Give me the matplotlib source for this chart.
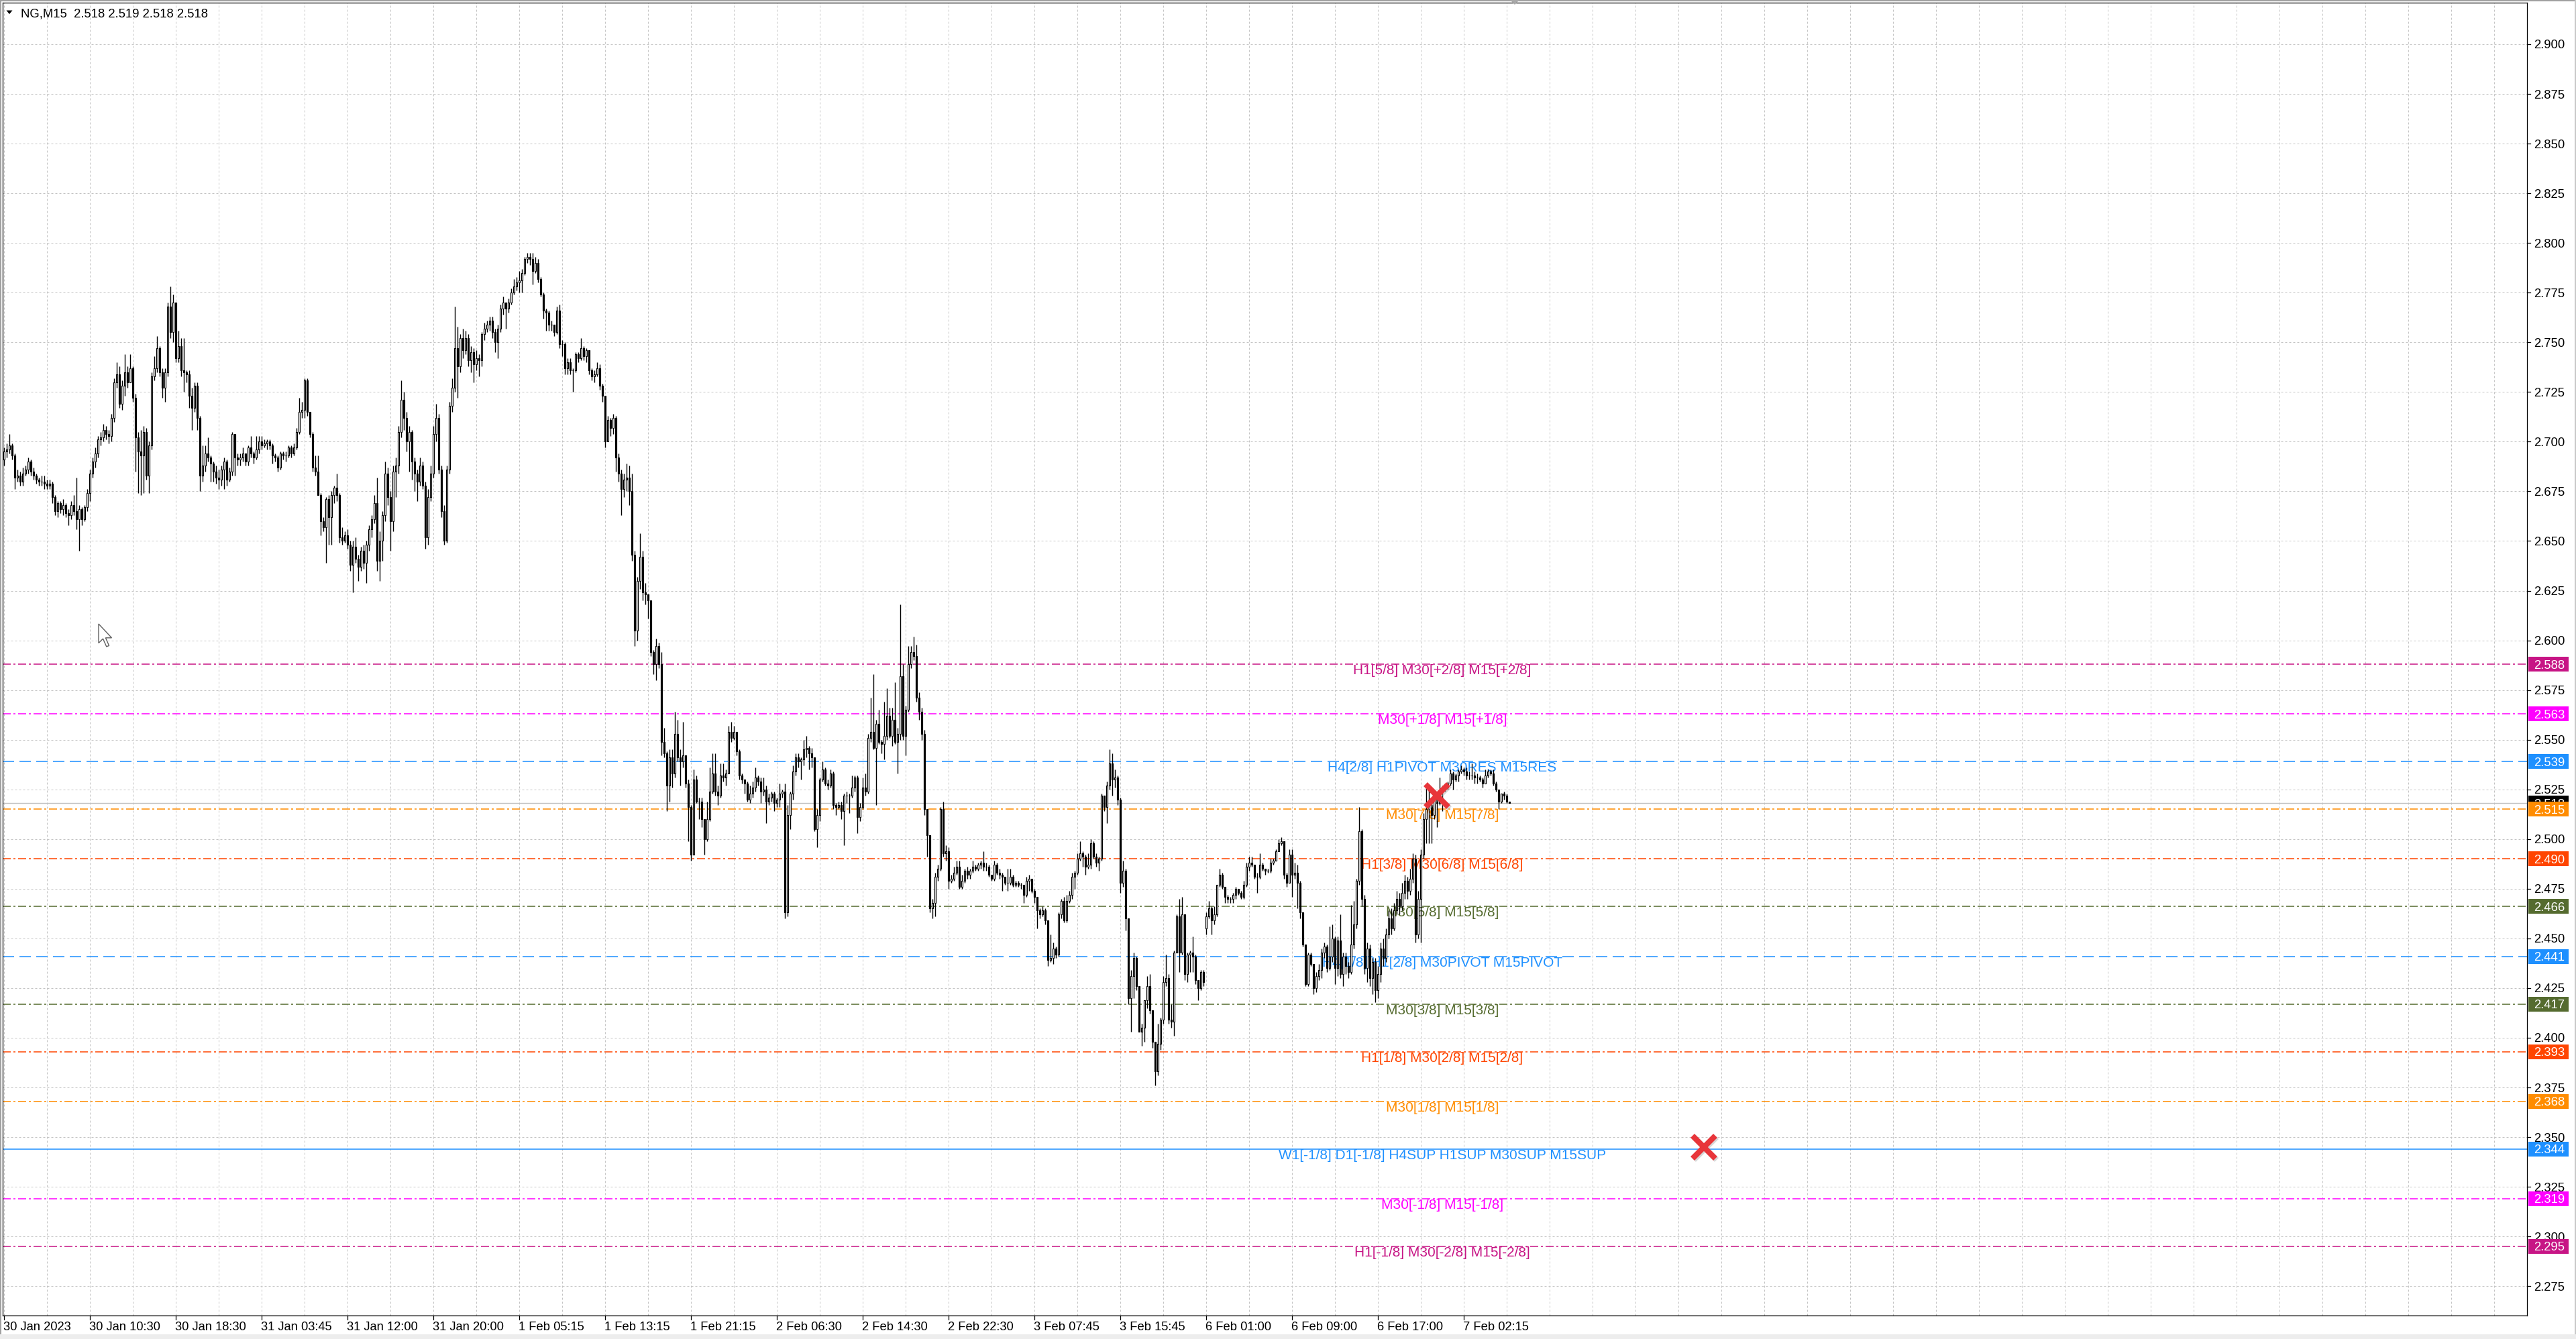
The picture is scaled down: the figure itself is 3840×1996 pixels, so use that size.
import numpy as np
import matplotlib
matplotlib.use("Agg")
import matplotlib.pyplot as plt
from matplotlib.patches import Rectangle, Polygon
from matplotlib.lines import Line2D
from matplotlib.transforms import blended_transform_factory, offset_copy

plt.rcParams['font.family'] = ['Liberation Sans', 'DejaVu Sans']
plt.rcParams['lines.scale_dashes'] = False

W, H = 3840, 1996

header = "NG,M15  2.518 2.519 2.518 2.518"

# M15 candles, prices in thousandths, 16 bars per row (one grid column)
closes = [
    2695, 2696, 2698, 2693, 2682, 2683, 2680, 2684, 2686, 2690, 2685, 2683, 2681, 2680, 2680, 2679,
    2678, 2679, 2672, 2665, 2669, 2666, 2668, 2664, 2663, 2668, 2665, 2661, 2666, 2661, 2667, 2674,
    2684, 2690, 2694, 2701, 2702, 2706, 2704, 2703, 2712, 2730, 2734, 2719, 2728, 2735, 2730, 2737,
    2722, 2702, 2695, 2693, 2705, 2683, 2698, 2733, 2737, 2747, 2735, 2727, 2735, 2768, 2755, 2770,
    2742, 2748, 2736, 2735, 2734, 2723, 2717, 2728, 2712, 2683, 2688, 2694, 2692, 2689, 2685, 2682,
    2681, 2686, 2690, 2681, 2685, 2704, 2692, 2691, 2692, 2694, 2690, 2697, 2694, 2692, 2696, 2700,
    2698, 2699, 2700, 2698, 2693, 2692, 2687, 2694, 2693, 2693, 2697, 2694, 2697, 2705, 2715, 2716,
    2731, 2715, 2704, 2687, 2685, 2673, 2660, 2657, 2671, 2662, 2673, 2677, 2673, 2652, 2650, 2653,
    2648, 2638, 2647, 2641, 2637, 2645, 2639, 2648, 2656, 2661, 2669, 2640, 2650, 2663, 2684, 2672,
    2660, 2685, 2688, 2705, 2721, 2712, 2700, 2705, 2690, 2684, 2680, 2688, 2678, 2652, 2672, 2684,
    2704, 2712, 2686, 2665, 2650, 2686, 2718, 2727, 2747, 2738, 2752, 2746, 2752, 2741, 2745, 2739,
    2742, 2741, 2754, 2757, 2759, 2761, 2755, 2750, 2757, 2767, 2770, 2767, 2770, 2775, 2778, 2780,
    2781, 2785, 2792, 2793, 2792, 2786, 2790, 2782, 2774, 2766, 2765, 2759, 2759, 2755, 2766, 2749,
    2749, 2737, 2740, 2736, 2736, 2744, 2742, 2747, 2743, 2746, 2736, 2733, 2734, 2737, 2728, 2723,
    2700, 2711, 2707, 2712, 2692, 2684, 2676, 2681, 2682, 2675, 2643, 2605, 2630, 2642, 2624, 2623,
    2620, 2594, 2588, 2597, 2588, 2549, 2543, 2527, 2541, 2533, 2553, 2541, 2539, 2542, 2528, 2516,
    2492, 2530, 2519, 2519, 2510, 2500, 2510, 2524, 2533, 2524, 2522, 2532, 2531, 2533, 2554, 2551,
    2554, 2544, 2532, 2530, 2528, 2520, 2523, 2526, 2531, 2529, 2524, 2525, 2519, 2521, 2523, 2518,
    2520, 2523, 2524, 2463, 2512, 2523, 2534, 2541, 2539, 2540, 2545, 2546, 2543, 2541, 2505, 2512,
    2530, 2535, 2528, 2527, 2533, 2517, 2516, 2517, 2514, 2522, 2522, 2522, 2526, 2531, 2511, 2516,
    2526, 2524, 2551, 2554, 2546, 2558, 2549, 2548, 2552, 2562, 2552, 2560, 2549, 2553, 2582, 2552,
    2565, 2588, 2594, 2592, 2571, 2564, 2553, 2515, 2502, 2465, 2468, 2481, 2485, 2515, 2493, 2494,
    2479, 2480, 2483, 2486, 2476, 2479, 2484, 2482, 2484, 2486, 2485, 2487, 2488, 2486, 2486, 2482,
    2480, 2487, 2483, 2482, 2481, 2478, 2478, 2481, 2477, 2478, 2477, 2477, 2472, 2479, 2480, 2474,
    2471, 2464, 2462, 2464, 2459, 2439, 2440, 2445, 2442, 2462, 2469, 2459, 2469, 2472, 2481, 2483,
    2490, 2493, 2491, 2486, 2487, 2498, 2491, 2488, 2490, 2522, 2516, 2527, 2538, 2530, 2531, 2520,
    2478, 2484, 2460, 2420, 2431, 2440, 2426, 2403, 2405, 2419, 2426, 2414, 2398, 2383, 2397, 2409,
    2428, 2430, 2409, 2408, 2443, 2461, 2443, 2462, 2432, 2442, 2443, 2441, 2429, 2425, 2433, 2428,
    2461, 2465, 2459, 2462, 2477, 2482, 2476, 2471, 2470, 2470, 2472, 2475, 2473, 2471, 2477, 2486,
    2488, 2487, 2481, 2481, 2487, 2485, 2484, 2484, 2488, 2489, 2494, 2498, 2499, 2482, 2478, 2492,
    2482, 2483, 2478, 2463, 2447, 2427, 2442, 2437, 2425, 2431, 2434, 2443, 2446, 2435, 2441, 2450,
    2435, 2449, 2432, 2441, 2436, 2433, 2447, 2457, 2479, 2504, 2470, 2435, 2445, 2430, 2438, 2424,
    2432, 2445, 2440, 2452, 2460, 2455, 2464, 2470, 2466, 2473, 2479, 2474, 2480, 2490, 2452, 2470,
    2492, 2510, 2515, 2517, 2512, 2523, 2518, 2525, 2526, 2526, 2528, 2533, 2530, 2532, 2534, 2535,
    2534, 2532, 2532, 2532, 2531, 2531, 2530, 2528, 2532, 2534, 2533, 2528, 2525, 2519, 2523, 2522, 2519, 2518,
]
highs = [
    2697, 2699, 2704, 2699, 2694, 2686, 2685, 2687, 2688, 2692, 2691, 2687, 2684, 2682, 2683, 2683,
    2681, 2681, 2680, 2673, 2670, 2670, 2671, 2669, 2666, 2670, 2673, 2682, 2668, 2667, 2668, 2676,
    2686, 2692, 2697, 2703, 2705, 2709, 2708, 2706, 2714, 2732, 2740, 2738, 2731, 2744, 2738, 2744,
    2738, 2724, 2705, 2706, 2708, 2707, 2700, 2735, 2743, 2753, 2748, 2737, 2737, 2770, 2778, 2774,
    2764, 2756, 2752, 2752, 2736, 2736, 2727, 2730, 2730, 2713, 2698, 2698, 2702, 2693, 2690, 2688,
    2686, 2688, 2692, 2691, 2687, 2705, 2704, 2694, 2694, 2697, 2694, 2698, 2703, 2695, 2703, 2703,
    2703, 2701, 2701, 2701, 2699, 2694, 2693, 2695, 2695, 2695, 2698, 2698, 2699, 2707, 2722, 2720,
    2732, 2732, 2715, 2705, 2693, 2693, 2674, 2662, 2672, 2673, 2675, 2678, 2684, 2674, 2657, 2655,
    2656, 2650, 2650, 2652, 2643, 2647, 2648, 2650, 2658, 2663, 2673, 2682, 2655, 2665, 2690, 2687,
    2675, 2688, 2692, 2708, 2731, 2725, 2715, 2708, 2706, 2692, 2686, 2692, 2690, 2680, 2676, 2688,
    2708, 2719, 2714, 2688, 2668, 2688, 2720, 2732, 2768, 2758, 2754, 2757, 2756, 2754, 2748, 2747,
    2746, 2744, 2755, 2760, 2761, 2763, 2763, 2757, 2759, 2769, 2773, 2770, 2772, 2777, 2782, 2783,
    2786, 2787, 2793, 2795, 2795, 2795, 2793, 2792, 2783, 2775, 2767, 2766, 2761, 2758, 2768, 2769,
    2751, 2750, 2742, 2742, 2737, 2745, 2745, 2752, 2748, 2747, 2746, 2737, 2736, 2740, 2739, 2729,
    2723, 2713, 2712, 2714, 2713, 2694, 2686, 2684, 2689, 2688, 2684, 2645, 2632, 2654, 2645, 2629,
    2623, 2619, 2595, 2601, 2599, 2594, 2556, 2544, 2545, 2545, 2564, 2560, 2545, 2559, 2541, 2530,
    2517, 2535, 2532, 2521, 2521, 2510, 2519, 2536, 2543, 2543, 2527, 2538, 2538, 2535, 2557, 2559,
    2557, 2554, 2545, 2533, 2530, 2529, 2527, 2529, 2536, 2532, 2531, 2531, 2527, 2523, 2524, 2524,
    2521, 2528, 2525, 2528, 2517, 2524, 2537, 2543, 2543, 2541, 2550, 2552, 2547, 2546, 2541, 2515,
    2531, 2539, 2536, 2530, 2535, 2534, 2518, 2519, 2519, 2523, 2524, 2523, 2532, 2532, 2532, 2518,
    2531, 2533, 2553, 2571, 2583, 2560, 2565, 2550, 2569, 2576, 2566, 2566, 2579, 2556, 2618, 2588,
    2567, 2597, 2597, 2602, 2598, 2574, 2566, 2555, 2514, 2502, 2470, 2483, 2487, 2516, 2519, 2497,
    2496, 2482, 2486, 2489, 2489, 2482, 2485, 2486, 2485, 2489, 2487, 2488, 2489, 2494, 2488, 2487,
    2482, 2489, 2488, 2485, 2483, 2481, 2485, 2485, 2482, 2479, 2479, 2478, 2477, 2481, 2482, 2480,
    2475, 2471, 2465, 2466, 2465, 2459, 2452, 2448, 2446, 2463, 2470, 2471, 2472, 2474, 2483, 2484,
    2493, 2499, 2494, 2492, 2493, 2500, 2499, 2493, 2491, 2523, 2522, 2529, 2545, 2543, 2535, 2532,
    2521, 2489, 2485, 2459, 2434, 2443, 2441, 2426, 2407, 2419, 2431, 2432, 2414, 2398, 2407, 2410,
    2431, 2442, 2432, 2417, 2444, 2462, 2470, 2471, 2462, 2443, 2444, 2451, 2442, 2429, 2434, 2434,
    2463, 2469, 2466, 2466, 2477, 2485, 2483, 2476, 2472, 2471, 2473, 2476, 2475, 2474, 2479, 2488,
    2491, 2491, 2487, 2483, 2493, 2488, 2485, 2485, 2490, 2490, 2495, 2500, 2501, 2499, 2483, 2495,
    2495, 2488, 2487, 2479, 2463, 2447, 2443, 2443, 2437, 2433, 2437, 2445, 2448, 2447, 2456, 2457,
    2451, 2451, 2462, 2443, 2443, 2438, 2467, 2469, 2480, 2516, 2505, 2472, 2448, 2447, 2440, 2440,
    2436, 2448, 2450, 2455, 2464, 2465, 2468, 2474, 2473, 2478, 2482, 2481, 2485, 2493, 2492, 2474,
    2495, 2513, 2527, 2527, 2518, 2525, 2524, 2531, 2527, 2528, 2529, 2535, 2534, 2533, 2535, 2537,
    2536, 2536, 2534, 2538, 2534, 2533, 2532, 2531, 2535, 2535, 2535, 2535, 2529, 2525, 2523, 2524, 2523, 2519,
]
lows = [
    2688, 2692, 2694, 2691, 2676, 2680, 2678, 2678, 2683, 2684, 2683, 2681, 2679, 2678, 2678, 2676,
    2676, 2676, 2669, 2663, 2662, 2664, 2663, 2662, 2658, 2661, 2663, 2656, 2645, 2658, 2660, 2665,
    2670, 2682, 2687, 2692, 2698, 2700, 2701, 2699, 2700, 2710, 2727, 2717, 2716, 2723, 2727, 2733,
    2720, 2685, 2674, 2673, 2674, 2681, 2674, 2696, 2731, 2735, 2733, 2722, 2720, 2733, 2752, 2750,
    2740, 2740, 2733, 2725, 2730, 2717, 2706, 2715, 2706, 2675, 2680, 2685, 2690, 2680, 2680, 2679,
    2676, 2678, 2676, 2678, 2680, 2683, 2683, 2688, 2688, 2690, 2688, 2688, 2692, 2689, 2691, 2694,
    2696, 2697, 2696, 2696, 2689, 2690, 2685, 2686, 2691, 2690, 2692, 2692, 2693, 2696, 2704, 2712,
    2712, 2713, 2702, 2685, 2683, 2673, 2653, 2655, 2639, 2648, 2648, 2669, 2670, 2649, 2648, 2649,
    2646, 2635, 2624, 2639, 2630, 2635, 2636, 2629, 2645, 2652, 2659, 2635, 2630, 2640, 2660, 2668,
    2645, 2655, 2672, 2684, 2702, 2706, 2695, 2685, 2681, 2675, 2670, 2678, 2676, 2646, 2648, 2670,
    2682, 2700, 2684, 2662, 2648, 2649, 2684, 2715, 2725, 2722, 2735, 2742, 2744, 2738, 2735, 2730,
    2736, 2733, 2738, 2751, 2755, 2756, 2752, 2745, 2742, 2755, 2764, 2757, 2765, 2769, 2774, 2776,
    2775, 2775, 2784, 2790, 2789, 2779, 2785, 2780, 2773, 2762, 2756, 2756, 2756, 2753, 2754, 2747,
    2743, 2734, 2734, 2734, 2725, 2735, 2740, 2741, 2741, 2740, 2734, 2731, 2730, 2733, 2726, 2720,
    2697, 2700, 2703, 2704, 2685, 2680, 2663, 2672, 2675, 2668, 2640, 2597, 2600, 2626, 2620, 2618,
    2611, 2592, 2583, 2580, 2586, 2542, 2541, 2514, 2519, 2526, 2531, 2539, 2527, 2536, 2526, 2499,
    2489, 2494, 2518, 2510, 2506, 2492, 2499, 2509, 2523, 2522, 2517, 2521, 2529, 2527, 2541, 2549,
    2550, 2542, 2530, 2528, 2523, 2519, 2518, 2521, 2524, 2527, 2518, 2522, 2508, 2517, 2519, 2514,
    2516, 2516, 2521, 2460, 2461, 2505, 2520, 2532, 2536, 2530, 2537, 2541, 2535, 2536, 2504, 2496,
    2509, 2529, 2527, 2525, 2526, 2515, 2512, 2515, 2510, 2497, 2518, 2513, 2521, 2524, 2503, 2509,
    2515, 2522, 2523, 2549, 2545, 2517, 2548, 2543, 2540, 2550, 2551, 2547, 2548, 2533, 2550, 2550,
    2542, 2564, 2586, 2590, 2569, 2560, 2550, 2512, 2491, 2463, 2460, 2461, 2479, 2484, 2491, 2489,
    2475, 2478, 2479, 2482, 2475, 2475, 2478, 2480, 2480, 2483, 2484, 2484, 2485, 2484, 2484, 2481,
    2479, 2479, 2482, 2480, 2474, 2477, 2474, 2477, 2476, 2476, 2476, 2475, 2468, 2471, 2474, 2473,
    2468, 2455, 2460, 2461, 2457, 2436, 2438, 2437, 2440, 2441, 2460, 2458, 2458, 2468, 2470, 2475,
    2482, 2489, 2486, 2482, 2485, 2485, 2490, 2486, 2484, 2489, 2514, 2508, 2525, 2522, 2526, 2517,
    2473, 2476, 2454, 2417, 2403, 2420, 2424, 2403, 2396, 2398, 2415, 2412, 2395, 2376, 2381, 2394,
    2407, 2426, 2407, 2405, 2401, 2443, 2433, 2442, 2429, 2428, 2433, 2433, 2427, 2419, 2424, 2426,
    2452, 2460, 2452, 2457, 2461, 2476, 2475, 2468, 2468, 2468, 2468, 2470, 2472, 2470, 2470, 2476,
    2484, 2486, 2480, 2473, 2480, 2484, 2482, 2483, 2483, 2487, 2489, 2494, 2497, 2480, 2476, 2478,
    2471, 2480, 2465, 2460, 2446, 2426, 2426, 2436, 2422, 2423, 2429, 2430, 2440, 2433, 2434, 2438,
    2427, 2431, 2430, 2426, 2432, 2430, 2432, 2445, 2455, 2477, 2466, 2432, 2428, 2426, 2422, 2418,
    2420, 2428, 2436, 2438, 2450, 2452, 2454, 2462, 2462, 2464, 2470, 2470, 2472, 2478, 2448, 2450,
    2448, 2490, 2498, 2498, 2498, 2510, 2506, 2517, 2514, 2524, 2525, 2527, 2525, 2529, 2529, 2533,
    2532, 2530, 2530, 2530, 2528, 2528, 2529, 2526, 2530, 2531, 2532, 2527, 2524, 2515, 2518, 2520, 2518, 2518,
]
first_open = 2691
gap_opens = {448: 2455}   # Monday open after the weekend

time_labels = ["30 Jan 2023", "30 Jan 10:30", "30 Jan 18:30", "31 Jan 03:45", "31 Jan 12:00",
               "31 Jan 20:00", "1 Feb 05:15", "1 Feb 13:15", "1 Feb 21:15", "2 Feb 06:30",
               "2 Feb 14:30", "2 Feb 22:30", "3 Feb 07:45", "3 Feb 15:45", "6 Feb 01:00",
               "6 Feb 09:00", "6 Feb 17:00", "7 Feb 02:15"]
price_ticks = [2.275, 2.300, 2.325, 2.350, 2.375, 2.400, 2.425, 2.450, 2.475, 2.500, 2.525,
               2.550, 2.575, 2.600, 2.625, 2.650, 2.675, 2.700, 2.725, 2.750, 2.775, 2.800,
               2.825, 2.850, 2.875, 2.900]

levels = [2.588, 2.563, 2.539, 2.515, 2.490, 2.466, 2.441, 2.417, 2.393, 2.368, 2.344, 2.319, 2.295]
level_names = ["H1[5/8] M30[+2/8] M15[+2/8]", "M30[+1/8] M15[+1/8]",
               "H4[2/8] H1PIVOT M30RES M15RES", "M30[7/8] M15[7/8]",
               "H1[3/8] M30[6/8] M15[6/8]", "M30[5/8] M15[5/8]",
               "H4[1/8] H1[2/8] M30PIVOT M15PIVOT", "M30[3/8] M15[3/8]",
               "H1[1/8] M30[2/8] M15[2/8]", "M30[1/8] M15[1/8]",
               "W1[-1/8] D1[-1/8] H4SUP H1SUP M30SUP M15SUP", "M30[-1/8] M15[-1/8]",
               "H1[-1/8] M30[-2/8] M15[-2/8]"]
level_colors = ["#C71585", "#FF00FF", "#1E90FF", "#FF8C00", "#FF4500", "#556B2F", "#1E90FF",
                "#556B2F", "#FF4500", "#FF8C00", "#1E90FF", "#FF00FF", "#C71585"]
level_kinds = ["dashdot", "dashdot", "dash", "dashdot", "dashdot", "dashdot", "dash",
               "dashdot", "dashdot", "dashdot", "solid", "dashdot", "dashdot"]

bid = 2.518
cross_x = [534, 633.5]
cross_y = [2.522, 2.345]

# ---------------------------------------------------------------
n = min(len(closes), len(highs), len(lows))
c = np.array(closes[:n]) / 1000.0
opens = [first_open] + closes[:n - 1]
for k, v in gap_opens.items():
    opens[k] = v
o = np.array(opens) / 1000.0
hi = np.maximum(np.array(highs[:n]) / 1000.0, np.maximum(o, c))
lo = np.minimum(np.array(lows[:n]) / 1000.0, np.minimum(o, c))
x = np.arange(n)

fig = plt.figure(figsize=(W / 100, H / 100), dpi=100)
fig.patch.set_facecolor("white")
ax_l, ax_r, ax_t, ax_b = 4, 3767, 4, 1961
ax = fig.add_axes([ax_l / W, 1 - ax_b / H, (ax_r - ax_l) / W, (ax_b - ax_t) / H])
ax.set_xlim(-0.5, 940.25)
ax.set_ylim(2.26022, 2.92093)
ax.set_xticks([])
ax.set_yticks([])
for s in ax.spines.values():
    s.set_color("black")
    s.set_linewidth(0.9)

px = 0.72  # one pixel in points
grid_dash = (0, (3 * px, 3 * px))
for p in price_ticks:
    ax.axhline(p, color="#C4C4C4", lw=px, linestyle=grid_dash, zorder=1)
for k in range(0, 59):
    ax.axvline(16 * k, color="#C4C4C4", lw=px, linestyle=grid_dash, zorder=1)

styles = {"dashdot": (0, (12 * px, 4 * px, 3 * px, 4 * px)),
          "dash": (0, (17 * px, 8 * px)),
          "solid": "-"}
ax.axhline(bid, color="#C0C0C0", lw=1.0, zorder=1.5)
for p, name, col, kind in zip(levels, level_names, level_colors, level_kinds):
    ax.axhline(p, color=col, lw=1.1, linestyle=styles[kind], zorder=1.6)
    ax.text(536, p, name, color=col, fontsize=15, ha="center", va="top", zorder=2)

# candles
ax.vlines(x, lo, hi, color="black", lw=1.0, zorder=3)
bottom = np.minimum(o, c)
height = np.abs(c - o)
face = np.where(c < o, "black", "white")
ax.bar(x, height, bottom=bottom, width=0.55, color=face, edgecolor="black",
       linewidth=0.85, zorder=4)

# red crosses
shadow = offset_copy(ax.transData, fig=fig, x=2, y=-2, units="dots")
ax.plot(cross_x, cross_y, ls="none", marker="x", ms=24, mew=6, color="#B0B0B0",
        alpha=0.5, transform=shadow, zorder=9)
ax.plot(cross_x, cross_y, ls="none", marker="x", ms=24, mew=6, color="#E8353A", zorder=10)

# price scale
tr = blended_transform_factory(fig.transFigure, ax.transData)
tr_txt = offset_copy(tr, fig=fig, x=0, y=-6.5, units="dots")
for p in price_ticks:
    fig.add_artist(Line2D([ax_r / W, (ax_r + 5) / W], [p, p], transform=tr, color="black", lw=0.9))
    fig.text(3777 / W, p, f"{p:.3f}", transform=tr_txt, fontsize=13.3, ha="left",
             va="baseline", color="black", zorder=5)

box_h = 11 / 2962.0
# current bid box: partly hidden under the 2.515 level box, as in the terminal
fig.add_artist(Rectangle((3769 / W, bid - box_h), 60 / W, 2 * box_h, transform=tr,
                         facecolor="black", edgecolor="none", zorder=6))
bid_clip = Rectangle((3769 / W, 2.515 + box_h), 60 / W, 0.05, transform=tr)
bid_txt = fig.text(3777 / W, bid, f"{bid:.3f}", transform=tr_txt, fontsize=13.3, ha="left",
                   va="baseline", color="white", zorder=6.5)
bid_txt.set_clip_path(bid_clip)
for p, col in zip(levels, level_colors):
    fig.add_artist(Rectangle((3769 / W, p - box_h), 60 / W, 2 * box_h, transform=tr,
                             facecolor=col, edgecolor="none", zorder=7))
    fig.text(3777 / W, p, f"{p:.3f}", transform=tr_txt, fontsize=13.3, ha="left",
             va="baseline", color="white", zorder=7.5)

# time scale
trx = blended_transform_factory(ax.transData, fig.transFigure)
for i, lab in enumerate(time_labels):
    xb = 32 * i
    fig.add_artist(Line2D([xb, xb], [1 - ax_b / H, 1 - (ax_b + 6) / H], transform=trx,
                          color="black", lw=0.9))
    fig.text(xb - 0.3, 1 - 1983 / H, lab, transform=trx, fontsize=13.2, ha="left",
             va="baseline", color="black")

# header
fig.text(31 / W, 1 - 25 / H, header, fontsize=13.3, ha="left", va="baseline", color="black")
fig.add_artist(Polygon([[9.5 / W, 1 - 15.5 / H], [18.5 / W, 1 - 15.5 / H], [14 / W, 1 - 21 / H]],
                       closed=True, transform=fig.transFigure, facecolor="black", edgecolor="none"))

# chart-shift marker at top
fig.add_artist(Polygon([[2251 / W, 1.0], [2265 / W, 1.0], [2258 / W, 1 - 7 / H]], closed=True,
                       transform=fig.transFigure, facecolor="#A8A8A8", edgecolor="none", zorder=8))

# mouse pointer
cur = np.array([[0, 0], [0, 22], [5, 17], [9, 26], [12, 25], [8, 16], [15, 16]]) * 1.3
cur = cur + np.array([147, 930])
fig.add_artist(Polygon(np.column_stack([cur[:, 0] / W, 1 - cur[:, 1] / H]), closed=True,
                       transform=fig.transFigure, facecolor="white", edgecolor="#606060",
                       lw=1.0, zorder=8))

# window frame
fig.add_artist(Rectangle((0, 1 - 2 / H), 1, 2 / H, transform=fig.transFigure,
                         facecolor="#A0A0A0", edgecolor="none"))
fig.add_artist(Rectangle((0, 0), 2 / W, 1, transform=fig.transFigure,
                         facecolor="#A0A0A0", edgecolor="none"))
fig.add_artist(Rectangle((1 - 2 / W, 0), 2 / W, 1, transform=fig.transFigure,
                         facecolor="#C8C8C8", edgecolor="none"))
fig.add_artist(Rectangle((0, 0), 1, 7 / H, transform=fig.transFigure,
                         facecolor="#EDEDED", edgecolor="none"))

fig.savefig("out.png", dpi=100, facecolor="white")
